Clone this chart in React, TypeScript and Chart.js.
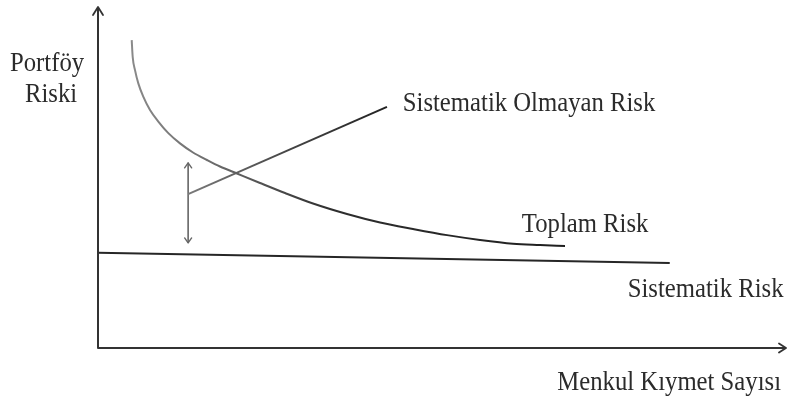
import React, { useEffect, useRef } from "react";
import { Chart, registerables } from "chart.js";

Chart.register(...registerables);

// Toplam Risk curve (x: menkul kıymet sayısı, y: risk)
const totalRiskX = [4.9, 5.04, 5.38, 5.86, 6.58, 7.56, 8.77, 10.22, 11.92, 13.81, 15.84, 17.73, 20.2, 23.55, 27.18, 31.25, 36.19, 41.0, 45.78, 50.73, 55.52, 60.32, 64.24, 67.88];
const totalRiskY = [90.3, 85.4, 81.5, 77.6, 73.7, 69.8, 66.4, 63.0, 60.0, 57.33, 55.13, 53.23, 51.17, 48.39, 45.45, 42.38, 39.3, 36.8, 34.9, 33.1, 31.7, 30.6, 30.2, 29.9];

// Sistematik Olmayan Risk line
const unsysX = [13.1, 42.0];
const unsysY = [45.1, 70.7];

// Sistematik Risk line
const sysX = [0, 83.1];
const sysY = [27.9, 24.9];

// Double-headed arrow (diversifiable gap)
const gapX = [13.1, 13.1];
const gapY = [54.3, 30.8];

const labelTexts = {
  yTitle: ["Portföy", "Riski"],
  unsys: "Sistematik Olmayan Risk",
  total: "Toplam Risk",
  sys: "Sistematik Risk",
  xTitle: "Menkul Kıymet Sayısı",
};

const zip = (xs: number[], ys: number[]) => xs.map((x, i) => ({ x, y: ys[i] }));

export default function App() {
  const ref = useRef<HTMLCanvasElement | null>(null);

  useEffect(() => {
    document.body.style.margin = "0";
    document.body.style.background = "#ffffff";
    const canvas = ref.current!;
    const ink = "#2b2b2b";

    const drawText = (ctx: CanvasRenderingContext2D, t: string, x: number, y: number, align: CanvasTextAlign = "left") => {
      ctx.save();
      ctx.translate(x, y);
      ctx.scale(0.915, 1);
      ctx.textAlign = align;
      ctx.textBaseline = "alphabetic";
      ctx.fillText(t, 0, 0);
      ctx.restore();
    };

    const decor = {
      id: "decor",
      afterDatasetsDraw(chart: any) {
        const ctx: CanvasRenderingContext2D = chart.ctx;
        const { left, right, top, bottom } = chart.chartArea;
        const xs = chart.scales.x;
        const ys = chart.scales.y;
        ctx.save();
        // axes
        ctx.strokeStyle = "#333";
        ctx.lineWidth = 2;
        ctx.lineCap = "round";
        ctx.lineJoin = "round";
        ctx.beginPath();
        ctx.moveTo(left, top + 1);
        ctx.lineTo(left, bottom);
        ctx.lineTo(right - 1, bottom);
        ctx.stroke();
        // y arrow head
        ctx.lineWidth = 1.8;
        ctx.beginPath();
        ctx.moveTo(left - 5, top + 8);
        ctx.lineTo(left, top);
        ctx.lineTo(left + 5, top + 8);
        ctx.stroke();
        // x arrow head
        ctx.beginPath();
        ctx.moveTo(right - 7, bottom - 4.5);
        ctx.lineTo(right, bottom);
        ctx.lineTo(right - 7, bottom + 4.5);
        ctx.stroke();
        // double arrow heads
        const ax = xs.getPixelForValue(gapX[0]);
        const at = ys.getPixelForValue(gapY[0]);
        const ab = ys.getPixelForValue(gapY[1]);
        ctx.strokeStyle = "#666";
        ctx.lineWidth = 1.4;
        ctx.beginPath();
        ctx.moveTo(ax - 3.5, at + 5);
        ctx.lineTo(ax, at);
        ctx.lineTo(ax + 3.5, at + 5);
        ctx.moveTo(ax - 3.5, ab - 5);
        ctx.lineTo(ax, ab);
        ctx.lineTo(ax + 3.5, ab - 5);
        ctx.stroke();
        // labels
        ctx.fillStyle = ink;
        ctx.font = '27px "Liberation Serif", "Times New Roman", serif';
        drawText(ctx, labelTexts.yTitle[0], 10, 71);
        drawText(ctx, labelTexts.yTitle[1], 25, 102);
        drawText(ctx, labelTexts.unsys, xs.getPixelForValue(44.3), ys.getPixelForValue(69.4));
        drawText(ctx, labelTexts.total, xs.getPixelForValue(61.6), ys.getPixelForValue(34.0));
        drawText(ctx, labelTexts.sys, xs.getPixelForValue(77.0), ys.getPixelForValue(15.0));
        drawText(ctx, labelTexts.xTitle, right - 5, bottom + 42, "right");
        ctx.restore();
      },
    };

    const grad = (stops: [number, string][]) => (c: any) => {
      const chart = c.chart;
      const area = chart.chartArea;
      if (!area) return "#333";
      const xs = chart.scales.x;
      const g = chart.ctx.createLinearGradient(area.left, 0, area.right, 0);
      stops.forEach(([v, col]) => {
        const px = xs.getPixelForValue(v);
        const f = Math.min(1, Math.max(0, (px - area.left) / (area.right - area.left)));
        g.addColorStop(f, col);
      });
      return g;
    };

    const chart = new Chart(canvas, {
      type: "scatter",
      data: {
        datasets: [
          {
            label: labelTexts.total,
            data: zip(totalRiskX, totalRiskY),
            showLine: true,
            borderColor: grad([
              [4, "#8c8c8c"],
              [16, "#6e6e6e"],
              [34, "#2e2e2e"],
              [70, "#1e1e1e"],
            ]),
            borderWidth: 2,
            pointRadius: 0,
            cubicInterpolationMode: "monotone",
          },
          {
            label: labelTexts.unsys,
            data: zip(unsysX, unsysY),
            showLine: true,
            borderColor: grad([
              [13, "#7a7a7a"],
              [28, "#444"],
              [42, "#222"],
            ]),
            borderWidth: 2,
            pointRadius: 0,
          },
          {
            label: labelTexts.sys,
            data: zip(sysX, sysY),
            showLine: true,
            borderColor: "#262626",
            borderWidth: 2,
            pointRadius: 0,
          },
          {
            label: "gap",
            data: zip(gapX, gapY),
            showLine: true,
            borderColor: "#666",
            borderWidth: 1.6,
            pointRadius: 0,
          },
        ],
      },
      options: {
        animation: false,
        responsive: false,
        events: [],
        layout: { padding: { left: 98, right: 1, top: 7, bottom: 53 } },
        plugins: { legend: { display: false }, tooltip: { enabled: false } },
        scales: {
          x: { type: "linear", min: 0, max: 100, display: false },
          y: { type: "linear", min: 0, max: 100, display: false },
        },
      },
      plugins: [decor],
    });
    return () => chart.destroy();
  }, []);

  return (
    <div style={{ width: 787, height: 401, background: "#fff" }}>
      <canvas ref={ref} width={787} height={401} style={{ display: "block", width: 787, height: 401 }} />
    </div>
  );
}
